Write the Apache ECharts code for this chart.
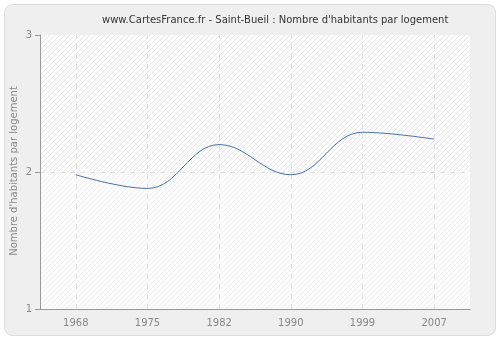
<!DOCTYPE html>
<html><head><meta charset="utf-8">
<script src="https://cdn.jsdelivr.net/npm/echarts@6/dist/echarts.min.js"></script>
<style>html,body{margin:0;padding:0;background:#fff}#c{width:500px;height:340px}</style>
</head><body><div id="c"></div>
<script>
var years = ['1968','1975','1982','1990','1999','2007'];
var values = [1.98, 1.88, 2.20, 1.98, 2.29, 2.24];
var yTicks = [1, 2, 3];
var titleText = "www.CartesFrance.fr - Saint-Bueil : Nombre d'habitants par logement";
var yName = "Nombre d'habitants par logement";

function hatch(bg, fg) {
  var pc = document.createElement('canvas');
  pc.width = 5; pc.height = 5;
  var g = pc.getContext('2d');
  g.fillStyle = bg; g.fillRect(0,0,5,5);
  g.strokeStyle = fg; g.lineWidth = 1;
  g.beginPath();
  for (var k = -5; k <= 10; k += 5) { g.moveTo(k, 5); g.lineTo(k + 5, 0); }
  g.stroke();
  return pc;
}
var faint = hatch('#fcfcfc', '#f1f1f1');
var strong = hatch('#fcfcfc', '#e9e9e9');

var font = 'DejaVu Sans';
var chart = echarts.init(document.getElementById('c'));
chart.setOption({
  animation: false,
  backgroundColor: '#fff',
  graphic: [
    {type:'rect', shape:{x:4.5,y:4.5,width:491,height:331,r:8}, style:{fill:'#efefef', stroke:'#dcdcdc', lineWidth:1}, z:-10},
    {type:'text', x:14, y:171, rotation:Math.PI/2, style:{text:yName, fill:'#888', font:'10px "DejaVu Sans"', align:'center', verticalAlign:'middle'}, z:5}
  ],
  title: {text: titleText, left: 97, top: 10, textStyle:{fontFamily:font, fontSize:10, fontWeight:'normal', color:'#333'}},
  grid: {left: 40, right: 30, top: 35, bottom: 31, containLabel: false, outerBoundsMode: 'none', show: true, borderWidth: 0, backgroundColor: {image: faint, repeat: 'repeat'}},
  xAxis: {type:'category', data: years, boundaryGap: true,
    axisLine:{lineStyle:{color:'#999'}}, axisTick:{alignWithLabel:true, length:5, lineStyle:{color:'#999'}},
    axisLabel:{color:'#888', fontFamily:font, fontSize:10, margin:9},
    splitLine:{show:false}},
  yAxis: {type:'value', min: yTicks[0], max: yTicks[yTicks.length-1], interval: 1,
    axisLine:{show:true, lineStyle:{color:'#999'}}, axisTick:{show:true, length:5, lineStyle:{color:'#999'}},
    axisLabel:{color:'#888', fontFamily:font, fontSize:10, margin:8},
    splitLine:{show:true, lineStyle:{color:'#e2e2e2', type:[5,5]}}},
  series: [{type:'line', data: values, smooth: 0.4, symbol:'none', lineStyle:{color:'#4a72a8', width:1},
    markArea: {silent:true, z:0, itemStyle:{color:{image: strong, repeat:'repeat'}},
      data: [[{yAxis: yTicks[1]}, {yAxis: yTicks[2]}]]},
    markLine: {silent:true, symbol:'none', label:{show:false}, z:1,
      lineStyle:{color:'#e2e2e2', type:[5,5], width:1},
      data: years.map(function(y){ return {xAxis: y}; })}}]
});
</script></body></html>
